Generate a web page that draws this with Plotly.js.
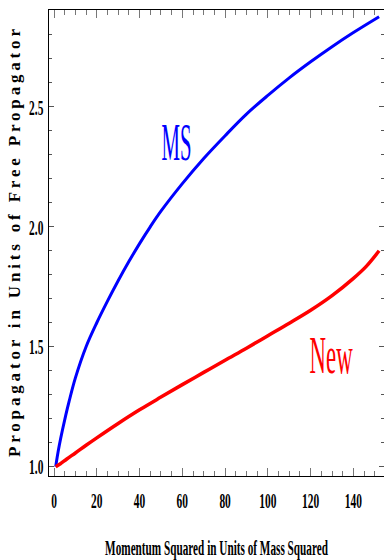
<!DOCTYPE html>
<html>
<head>
<meta charset="utf-8">
<script src="https://cdn.plot.ly/plotly-3.0.1.min.js"></script>
<style>
html,body{margin:0;padding:0;background:#fff;}
#chart{width:384px;height:560px;}
</style>
</head>
<body>
<div id="chart"></div>
<script>
// Series
var msX  = [0.8, 1.5, 2.5, 4, 5.5, 7, 10, 15, 20, 25, 30, 35, 40, 45, 50, 60, 70, 80, 90, 100, 110, 120, 130, 140, 152];
var msY  = [1.0, 1.04, 1.09, 1.155, 1.215, 1.27, 1.37, 1.50, 1.60, 1.69, 1.775, 1.855, 1.93, 2.00, 2.065, 2.18, 2.285, 2.38, 2.47, 2.548, 2.621, 2.688, 2.751, 2.81, 2.876];
var newX = [0.8, 3, 6, 10, 15, 20, 30, 40, 50, 60, 70, 80, 90, 100, 110, 120, 130, 140, 146, 152];
var newY = [1.0, 1.012, 1.032, 1.057, 1.089, 1.12, 1.18, 1.237, 1.29, 1.342, 1.393, 1.444, 1.494, 1.546, 1.598, 1.652, 1.713, 1.785, 1.835, 1.90];

var xTickVals = [0, 20, 40, 60, 80, 100, 120, 140];
var xTickText = ["0", "20", "40", "60", "80", "100", "120", "140"];
var yTickVals = [1.0, 1.5, 2.0, 2.5];
var yTickText = ["1.0", "1.5", "2.0", "2.5"];

var labelMS = "MS";
var labelNew = "New";
var xTitle = "Momentum Squared in Units of Mass Squared";
var yTitle = "Propagator in Units of Free Propagator";

var serif = "Liberation Serif, Times New Roman, serif";

var traces = [
  {x: msX, y: msY, mode: "lines", line: {color: "#0000ff", width: 3, shape: "spline", smoothing: 1}, hoverinfo: "skip"},
  {x: newX, y: newY, mode: "lines", line: {color: "#ff0000", width: 3.5, shape: "spline", smoothing: 1}, hoverinfo: "skip"}
];

var layout = {
  width: 384, height: 560,
  margin: {l: 49, r: 0, t: 10, b: 84},
  paper_bgcolor: "#ffffff", plot_bgcolor: "#ffffff",
  showlegend: false,
  xaxis: {
    range: [-2.34, 154.3], showgrid: false, zeroline: false,
    showline: true, linecolor: "#000", linewidth: 1.2, mirror: "allticks",
    ticks: "inside", ticklen: 8, tickcolor: "#777", tickwidth: 1,
    tickvals: xTickVals, ticktext: xTickText,
    minor: {dtick: 5, tick0: 0, ticks: "inside", ticklen: 5, tickcolor: "#777", tickwidth: 1, showgrid: false},
    tickfont: {family: serif, size: 22, color: "#000", weight: "bold"},
    ticklabelstandoff: 4,
    title: {text: xTitle, font: {family: serif, size: 22, color: "#000", weight: "bold"}, standoff: 30}
  },
  yaxis: {
    range: [0.961, 2.904], showgrid: false, zeroline: false,
    showline: true, linecolor: "#000", linewidth: 1.2, mirror: "allticks",
    ticks: "inside", ticklen: 5, tickcolor: "#555", tickwidth: 1,
    tickvals: yTickVals, ticktext: yTickText,
    minor: {dtick: 0.1, tick0: 1, ticks: "inside", ticklen: 3, tickcolor: "#555", tickwidth: 1, showgrid: false},
    tickfont: {family: serif, size: 22, color: "#000", weight: "bold"},
    ticklabelstandoff: 0,
    title: {text: yTitle, font: {family: serif, size: 17, color: "#000", weight: "bold"}, standoff: 4}
  },
  annotations: [
    {x: 57.1, y: 2.352, xref: "x", yref: "y", text: labelMS, showarrow: false,
     xanchor: "center", yanchor: "middle", font: {family: serif, size: 52, color: "#0000ff"}},
    {x: 129.9, y: 1.462, xref: "x", yref: "y", text: labelNew, showarrow: false,
     xanchor: "center", yanchor: "middle", font: {family: serif, size: 52, color: "#ff0000"}}
  ]
};

// squeeze text horizontally around its anchor x (the reference uses a narrow face)
function squeezeX(nodes, target) {
  nodes.forEach(function (t) {
    var L = t.getComputedTextLength();
    if (!L) return;
    var w = typeof target === "function" ? target(L) : target;
    var s = w / L;
    var X = parseFloat(t.getAttribute("x")) || 0;
    var prev = t.getAttribute("transform") || "";
    t.setAttribute("transform", (prev + " translate(" + X + ",0) scale(" + s + ",1) translate(" + (-X) + ",0)").trim());
  });
}

Plotly.newPlot("chart", traces, layout, {staticPlot: true, displayModeBar: false}).then(function (gd) {
  var q = function (s) { return Array.prototype.slice.call(gd.querySelectorAll(s)); };
  q(".xtick text, .ytick text").forEach(function (t) {
    var L = t.getComputedTextLength();
    t.setAttribute("textLength", L * 0.52);
    t.setAttribute("lengthAdjust", "spacingAndGlyphs");
  });
  squeezeX(q(".g-xtitle text"), 223);
  q(".g-ytitle text").forEach(function (t) {
    t.setAttribute("textLength", 428);
    t.setAttribute("lengthAdjust", "spacing");
    var prev = t.getAttribute("transform") || "";
    t.setAttribute("transform", ("translate(5,0) " + prev).trim());
  });
  var ann = q(".annotation-text");
  if (ann[0]) squeezeX([ann[0]], 30);
  if (ann[1]) squeezeX([ann[1]], 43);
});
</script>
</body>
</html>
